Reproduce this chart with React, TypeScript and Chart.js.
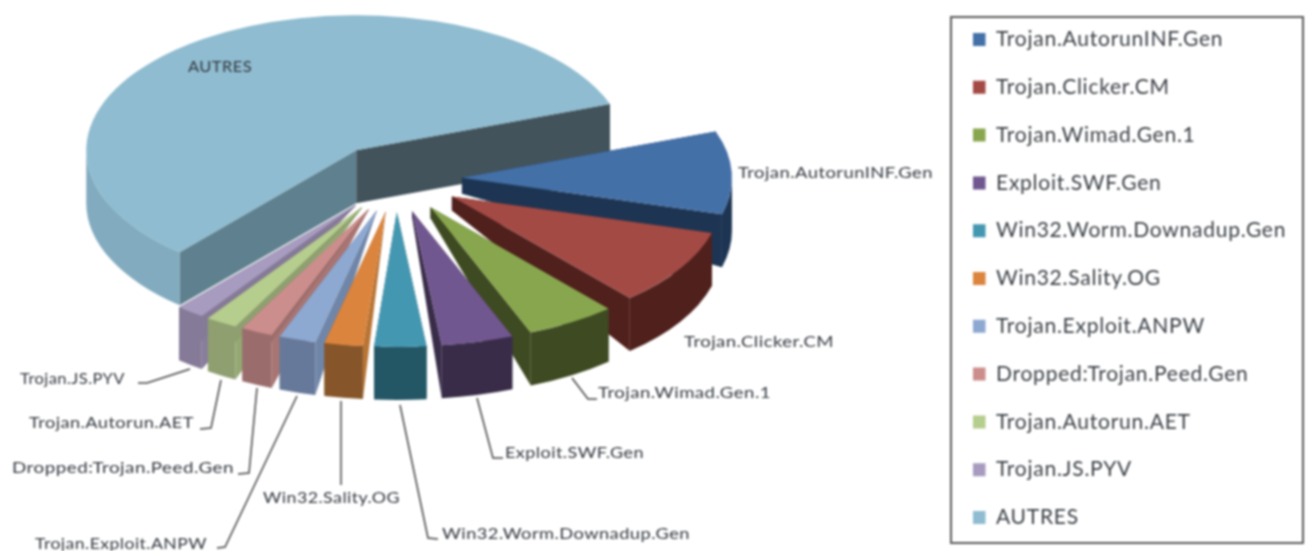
import React, { useEffect, useRef } from "react";
import { Chart, registerables } from "chart.js";

Chart.register(...registerables);

const categories = [
  "Trojan.AutorunINF.Gen",
  "Trojan.Clicker.CM",
  "Trojan.Wimad.Gen.1",
  "Exploit.SWF.Gen",
  "Win32.Worm.Downadup.Gen",
  "Win32.Sality.OG",
  "Trojan.Exploit.ANPW",
  "Dropped:Trojan.Peed.Gen",
  "Trojan.Autorun.AET",
  "Trojan.JS.PYV",
  "AUTRES",
];
const shares = [9.9, 9.2, 5.4, 4.3, 3.1, 2.3, 2.2, 1.9, 1.9, 1.7, 58.1];
const topColors = ["#4470a8", "#a34a45", "#88a64e", "#71578f", "#4497b0", "#db843d", "#8da8d1", "#cc8e8c", "#b5cd8d", "#a79bbf", "#8fbcd0"];
const outerWalls = ["#1d3553", "#4f201c", "#3e4a22", "#392c49", "#245766", "#86562a", "#67799a", "#9a6d6c", "#8f9f70", "#857a97", "#82abbf"];
const startWalls = ["#1d3553", "#4f201c", "#3e4a22", "#392c49", "#245766", "#b87434", "#7086a9", "#a87573", "#94a874", "#887d9c", "#5f808e"];
const endWalls = ["#1d3553", "#4f201c", "#3e4a22", "#392c49", "#245766", "#86562a", "#67799a", "#9a6d6c", "#8f9f70", "#857a97", "#42535c"];
const apexDepths = [16, 14, 11, 6, 0, 1, 1, 1, 1, 1, 53];
const explodes = [66, 66, 66, 66, 66, 66, 66, 66, 66, 66, 70];

// label layout: [text left, text width, text centre y, leader polyline]
const labelLayout: [number, number, number, number[][]][] = [
  [738, 195, 173, []],
  [684, 150, 342, []],
  [598, 173, 393, [[572, 378], [588, 399], [597, 399]]],
  [505, 139, 453, [[477, 398], [493, 458], [503, 458]]],
  [442, 248, 534, [[400, 405], [428, 538], [438, 539]]],
  [263, 137, 498, [[341, 401], [341, 485]]],
  [35, 172, 544, [[297, 396], [225, 547], [217, 548]]],
  [12, 222, 468, [[257, 388], [249, 473], [238, 474]]],
  [29, 165, 423, [[221, 380], [211, 428], [200, 429]]],
  [20, 105, 379, [[190, 369], [147, 383], [138, 383]]],
  [188, 64, 67, []],
];

const CX = 396;
const CY = 179;
const RADIUS = 270;
const SQUASH = 0.5;
const DEPTH = 53;
const LABEL_FONT = "15.5px Lato";
const LEGEND_LEFT = 973;
const PAD = 26.8;

const pie3d = {
  id: "pie3d",
  beforeLayout(chart: any) {
    const legend = chart.legend;
    if (legend && !legend.__patched) {
      const update = legend.update;
      legend.update = function (w: number, _h: number, m: any) {
        return update.call(this, w, 800, m);
      };
      legend.__patched = true;
    }
  },
  afterLayout(chart: any) {
    const legend = chart.legend;
    if (legend) {
      legend.left = LEGEND_LEFT - PAD;
      legend.top = 2.2;
      legend.bottom = 800;
    }
  },
  beforeDraw(chart: any) {
    chart.ctx.letterSpacing = "0.75px";
  },
  beforeDatasetDraw(chart: any) {
    const ctx = chart.ctx;
    const arcs = chart.getDatasetMeta(0).data;
    const norm = (a: number) => Math.atan2(Math.sin(a), Math.cos(a));
    const order = arcs
      .map((_: any, i: number) => i)
      .sort((p: number, q: number) => {
        const m = (i: number) => Math.abs(norm((arcs[i].startAngle + arcs[i].endAngle) / 2 - Math.PI / 2));
        return m(q) - m(p);
      });
    for (const i of order) {
      const arc = arcs[i];
      const mid = (arc.startAngle + arc.endAngle) / 2;
      const ax = CX + Math.cos(mid) * explodes[i];
      const ay = CY + Math.sin(mid) * explodes[i] * SQUASH;
      const r = arc.outerRadius;
      const edge = (a: number) => [ax + Math.cos(a) * r, ay + Math.sin(a) * r * SQUASH];
      const radial = (a: number, color: string) => {
        const [ex, ey] = edge(a);
        ctx.beginPath();
        ctx.moveTo(ax, ay);
        ctx.lineTo(ex, ey);
        ctx.lineTo(ex, ey + DEPTH);
        ctx.lineTo(ax, ay + apexDepths[i]);
        ctx.closePath();
        ctx.fillStyle = color;
        ctx.fill();
      };
      radial(arc.startAngle, startWalls[i]);
      radial(arc.endAngle, endWalls[i]);
      const s = Math.max(arc.startAngle, 0);
      const e = Math.min(arc.endAngle, Math.PI);
      if (e > s) {
        ctx.beginPath();
        ctx.ellipse(ax, ay, r, r * SQUASH, 0, s, e);
        ctx.ellipse(ax, ay + DEPTH, r, r * SQUASH, 0, e, s, true);
        ctx.closePath();
        ctx.fillStyle = outerWalls[i];
        ctx.fill();
      }
      ctx.save();
      ctx.translate(ax, ay);
      ctx.scale(1, SQUASH);
      ctx.translate(-arc.x, -arc.y);
      arc.draw(ctx);
      ctx.restore();
    }
    return false;
  },
  afterDraw(chart: any) {
    const ctx = chart.ctx;
    ctx.save();
    ctx.letterSpacing = "0.4px";
    ctx.strokeStyle = "#5a5a5a";
    ctx.lineWidth = 2;
    ctx.strokeRect(951, 17, 352, 526);
    ctx.font = LABEL_FONT;
    ctx.fillStyle = "#33383f";
    ctx.textBaseline = "middle";
    ctx.textAlign = "left";
    categories.forEach((name, i) => {
      const [x, w, y, line] = labelLayout[i];
      ctx.save();
      ctx.translate(x, y);
      ctx.scale(w / ctx.measureText(name).width, 1);
      ctx.fillText(name, 0, 0);
      ctx.restore();
      if (line.length) {
        ctx.beginPath();
        line.forEach((p, k) => (k ? ctx.lineTo(p[0], p[1]) : ctx.moveTo(p[0], p[1])));
        ctx.strokeStyle = "#454545";
        ctx.lineWidth = 1.5;
        ctx.stroke();
      }
    });
    ctx.restore();
    ctx.letterSpacing = "0px";
  },
};

export default function App() {
  const ref = useRef<HTMLCanvasElement>(null);
  useEffect(() => {
    document.body.style.margin = "0";
    document.body.style.background = "#fff";
    const chart = new Chart(ref.current as HTMLCanvasElement, {
      type: "pie",
      data: {
        labels: categories,
        datasets: [{ data: shares, backgroundColor: topColors, borderWidth: 0 }],
      },
      options: {
        animation: false,
        responsive: false,
        rotation: 70,
        radius: RADIUS,
        plugins: {
          tooltip: { enabled: false },
          legend: {
            position: "right",
            align: "start",
            labels: {
              boxWidth: 12.5,
              boxHeight: 13,
              padding: PAD,
              color: "#3a3f45",
              font: { family: "Lato", size: 21 },
            },
          },
        },
      },
      plugins: [pie3d],
    } as any);
    return () => chart.destroy();
  }, []);
  return (
    <canvas
      ref={ref}
      width={1307}
      height={551}
      style={{ display: "block", filter: "blur(0.8px)" }}
    />
  );
}
